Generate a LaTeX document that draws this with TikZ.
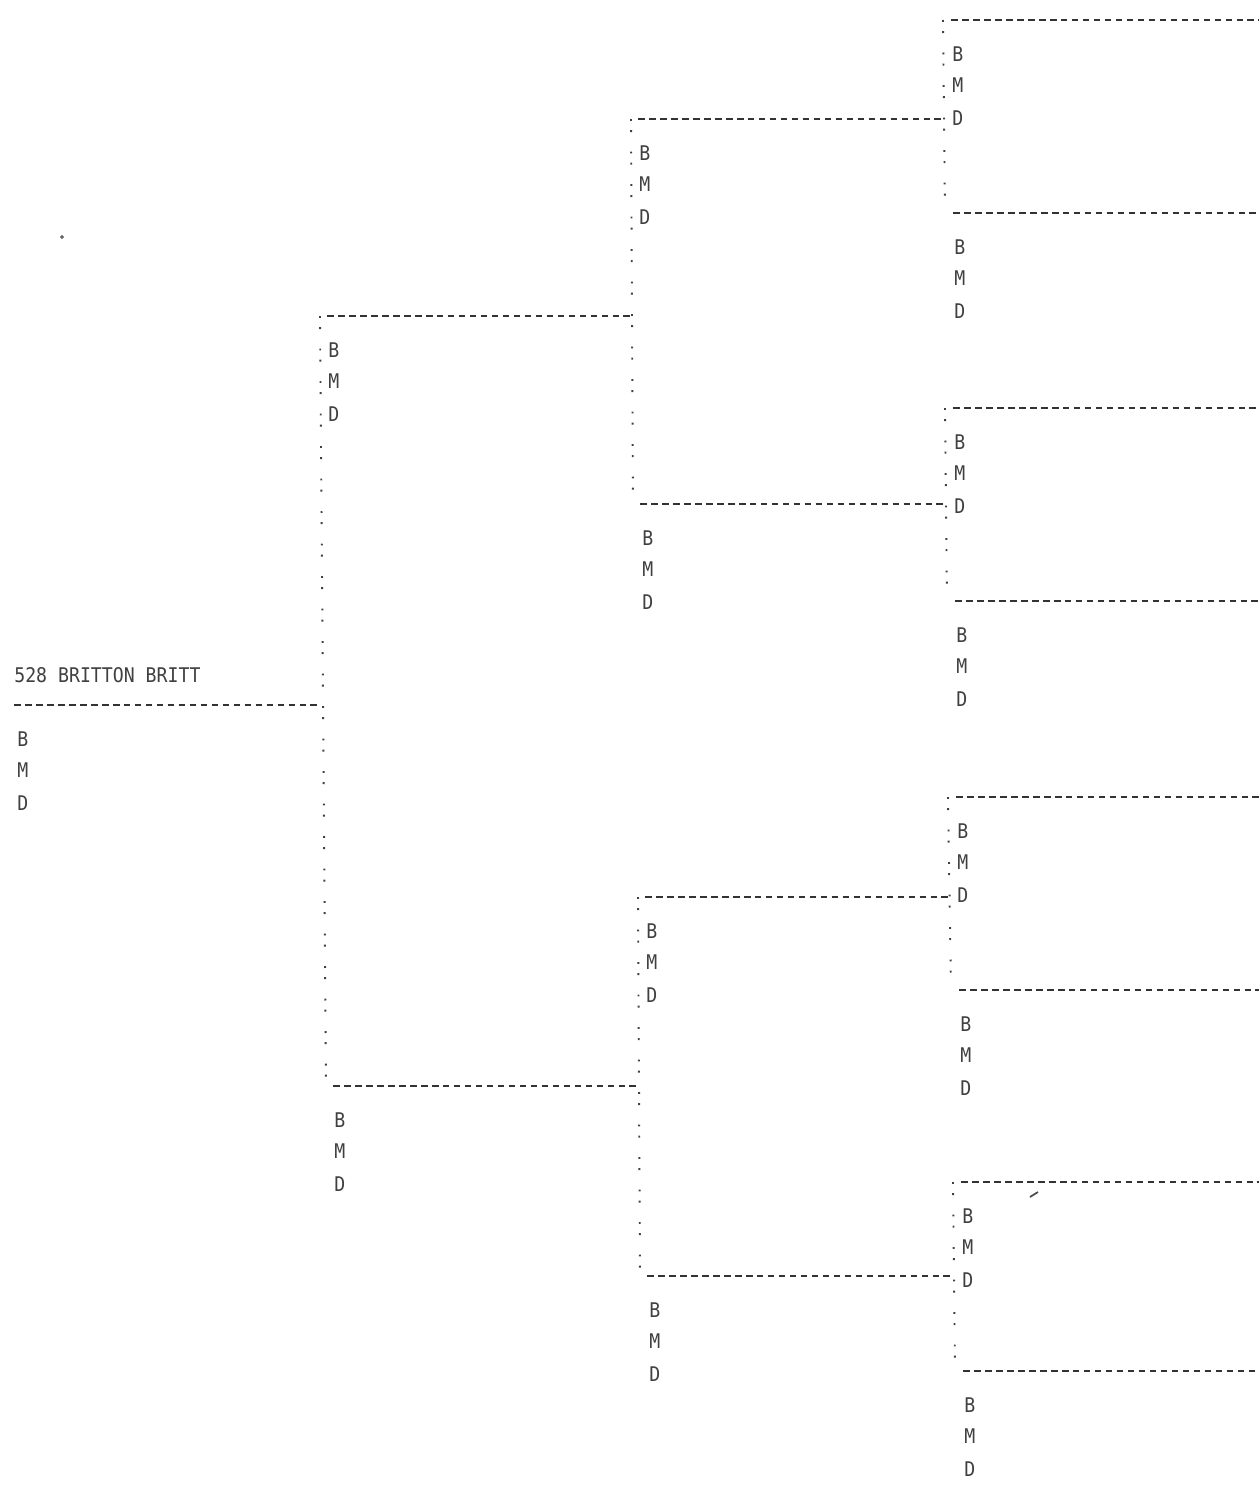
\documentclass[tikz,border=0pt]{standalone}
\usepackage{fontspec}
\newfontfamily\dotfont[FakeStretch=0.9]{DejaVu Sans Mono}
\usetikzlibrary{positioning}
\tikzset{
  hline/.style={line width=1.2pt,black!80,dash pattern=on 3.8pt off 2.45pt},
  vline/.style={line width=1.1pt,black!75,dash pattern=on 1.1pt off 5.2pt on 1.1pt off 11.1pt},
  lab/.style={font=\dotfont\fontsize{11.5}{13}\selectfont,text=black!75,anchor=west,inner sep=0pt},
}
% B, M, D under a person's line
\newcommand{\bmd}[3]{%
  \node[lab] (#1b) at (#2,#3+34) {B};
  \node[lab] (#1m) at (#2,#3+65) {M};
  \node[lab] (#1d) at (#2,#3+98) {D};}

\begin{document}
\begin{tikzpicture}[x=0.02cm,y=-0.02cm]
  \useasboundingbox (0,0) rectangle (1259,1491);
  \coordinate (edge) at (1259,0);
  % left ends of the person lines
  \coordinate (p1) at (14,705);
  \coordinate (p2) at (320,316);
  \coordinate (p3) at (326,1086);
  \coordinate (p4) at (631,119);
  \coordinate (p5) at (633,504);
  \coordinate (p6) at (638,897);
  \coordinate (p7) at (640,1276);
  \coordinate (p8) at (943,20);
  \coordinate (p9) at (945,213);
  \coordinate (p10) at (945,408);
  \coordinate (p11) at (947,601);
  \coordinate (p12) at (948,797);
  \coordinate (p13) at (951,990);
  \coordinate (p14) at (953,1182);
  \coordinate (p15) at (955,1371);
  % father down to mother
  \foreach \f/\m in {p2/p3,p4/p5,p6/p7,p8/p9,p10/p11,p12/p13,p14/p15}
    \draw[vline] (\f) -- (\m);
  % each line runs to its parents' tie
  \draw[hline] (p1) -- (p1 -| p2);
  \foreach \c/\n in {p2/p4,p3/p6,p4/p8,p5/p10,p6/p12,p7/p14}
    \draw[hline] ([xshift=0.14cm]\c) -- (\c -| \n);
  \foreach \i in {8,...,15}
    \draw[hline] ([xshift=0.16cm]p\i) -- (p\i -| edge);
  % texts
  \node[lab] (name) at (14,675) {528 BRITTON BRITT};
  \foreach \p/\x/\y in {p1/17/705,p2/328/316,p3/334/1086,p4/639/119,p5/642/504,
      p6/646/897,p7/649/1276,p8/952/20,p9/954/213,p10/954/408,p11/956/601,
      p12/957/797,p13/960/990,p14/962/1182,p15/964/1371}
    \bmd{\p}{\x}{\y}
  % specks on the sheet
  \fill[black!60] (62,237) circle (0.8pt);
  \draw[black!70,line width=1pt] (1030,1197) -- (1038,1192);
\end{tikzpicture}
\end{document}
